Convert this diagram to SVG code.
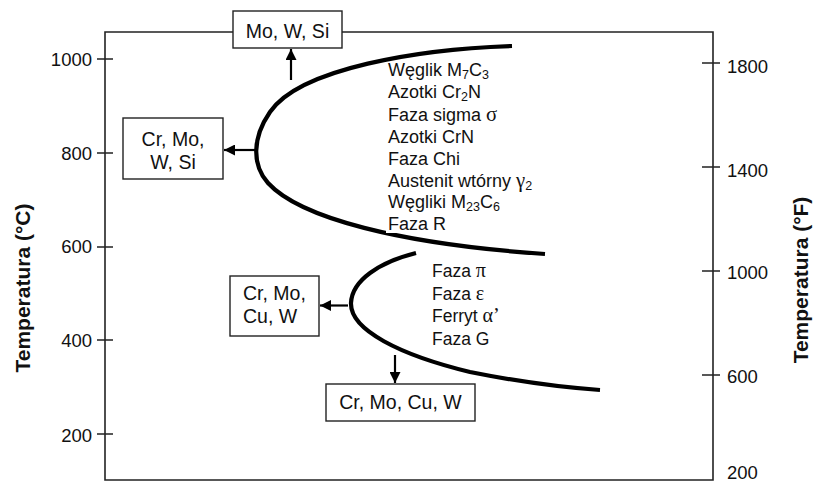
<svg xmlns="http://www.w3.org/2000/svg" width="815" height="483" viewBox="0 0 815 483">
<style>
text{font-family:"Liberation Sans",Arial,sans-serif;fill:#111}
.tick{font-size:18.5px}
.lst{font-size:18px}
.lst2{font-size:17.5px}
.box{font-size:19.5px}
.ax{font-size:21px;font-weight:bold}
.gr{font-family:"Liberation Serif","Times New Roman",serif;font-size:1.15em}
.frame{fill:none;stroke:#222;stroke-width:1.6}
.curve{fill:none;stroke:#000;stroke-width:4.2;stroke-linecap:butt}
.rect{fill:#fff;stroke:#222;stroke-width:1.4}
.arr{fill:none;stroke:#000;stroke-width:2.2}
</style>
<defs>
<marker id="ah" viewBox="0 0 10 10" refX="10" refY="5" markerWidth="5" markerHeight="5" markerUnits="strokeWidth" orient="auto">
<path d="M0,0 L10,5 L0,10 Z" fill="#000"/>
</marker>
</defs>
<rect width="815" height="483" fill="#fff"/>
<g id="axes">
<path class="frame" d="M233,32 H105 V480 H713 V32 H342"/>
<path class="frame" d="M97,59 H113 M97,153 H113 M97,247 H113 M97,340 H113 M97,434 H113"/>
<path class="frame" d="M702,63 H720 M702,167 H720 M702,271 H720 M702,375 H720"/>
<g class="tick" text-anchor="end">
<text x="92" y="66">1000</text>
<text x="92" y="160">800</text>
<text x="92" y="253">600</text>
<text x="92" y="347">400</text>
<text x="92" y="442">200</text>
</g>
<g class="tick">
<text x="727" y="73">1800</text>
<text x="727" y="177">1400</text>
<text x="727" y="279">1000</text>
<text x="727" y="383">600</text>
<text x="727" y="478.5">200</text>
</g>
<text class="ax" transform="translate(30,288) rotate(-90)" text-anchor="middle">Temperatura (°C)</text>
<text class="ax" transform="translate(808,280) rotate(-90)" text-anchor="middle">Temperatura (°F)</text>
</g>
<g id="curves">
<path class="curve" d="M512,46 C420,49 300,68 270,112 C252,138 252,165 268,183 C300,218 400,244 545,254"/>
<path class="curve" d="M416,253 C380,262 352,280 351,303 C350,330 400,355 470,372 C530,384 570,388 600,390"/>
</g>
<g id="high-phases">
<rect x="386" y="66" width="150" height="167" fill="#fff"/>
<g class="lst">
<text x="388" y="76">Węglik M<tspan font-size="12.5" dy="3">7</tspan><tspan dy="-3">C</tspan><tspan font-size="12.5" dy="3">3</tspan></text>
<text x="388" y="98">Azotki Cr<tspan font-size="12.5" dy="3">2</tspan><tspan dy="-3">N</tspan></text>
<text x="388" y="120.5">Faza sigma <tspan class="gr">σ</tspan></text>
<text x="388" y="143">Azotki CrN</text>
<text x="388" y="164.5">Faza Chi</text>
<text x="388" y="186.5">Austenit wtórny <tspan class="gr">γ</tspan><tspan font-size="12.5" dy="3">2</tspan></text>
<text x="388" y="208">Węgliki M<tspan font-size="12.5" dy="3">23</tspan><tspan dy="-3">C</tspan><tspan font-size="12.5" dy="3">6</tspan></text>
<text x="388" y="230">Faza R</text>
</g>
</g>
<g id="low-phases" class="lst2">
<text x="432" y="277">Faza <tspan class="gr">π</tspan></text>
<text x="432" y="300">Faza <tspan class="gr">ε</tspan></text>
<text x="432" y="322">Ferryt <tspan class="gr">α’</tspan></text>
<text x="432" y="345">Faza G</text>
</g>
<g id="box-mo-w-si">
<rect class="rect" x="233" y="11" width="109" height="37"/>
<text class="box" x="287.5" y="38" text-anchor="middle">Mo, W, Si</text>
</g>
<g id="box-cr-mo-w-si">
<rect class="rect" x="123" y="118" width="100" height="61"/>
<text class="box" x="173" y="146" text-anchor="middle">Cr, Mo,</text>
<text class="box" x="173" y="169" text-anchor="middle">W, Si</text>
</g>
<g id="box-cr-mo-cu-w-left">
<rect class="rect" x="230" y="276" width="89" height="60"/>
<text class="box" x="243" y="300">Cr, Mo,</text>
<text class="box" x="243" y="323">Cu, W</text>
</g>
<g id="box-cr-mo-cu-w-bottom">
<rect class="rect" x="326" y="384" width="149" height="37"/>
<text class="box" x="400.5" y="409" text-anchor="middle">Cr, Mo, Cu, W</text>
</g>
<g id="connectors">
<line class="arr" x1="291" y1="80" x2="291" y2="49" marker-end="url(#ah)"/>
<line class="arr" x1="256" y1="150" x2="224" y2="150" marker-end="url(#ah)"/>
<line class="arr" x1="348" y1="305.5" x2="320" y2="305.5" marker-end="url(#ah)"/>
<line class="arr" x1="395" y1="355" x2="395" y2="383" marker-end="url(#ah)"/>
</g>
</svg>
